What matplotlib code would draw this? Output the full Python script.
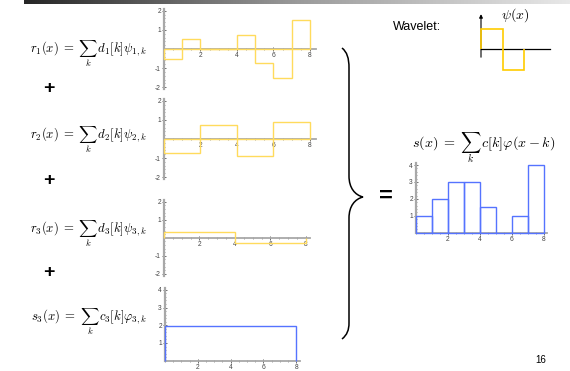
import numpy as np
import matplotlib
matplotlib.use('Agg')
import matplotlib.pyplot as plt
from matplotlib.path import Path
from matplotlib.patches import PathPatch
from matplotlib.ticker import MultipleLocator
from matplotlib.colors import LinearSegmentedColormap

plt.rcParams['mathtext.fontset'] = 'cm'
plt.rcParams['axes.unicode_minus'] = False
plt.rcParams['font.family'] = ['Liberation Sans', 'DejaVu Sans']

# ---- data ----
edges_l1 = [0, 1, 2, 3, 4, 5, 6, 7, 8]
r1_vals = [-0.5, 0.5, 0, 0, 0.75, -0.75, -1.5, 1.5]
edges_l2 = [0, 2, 4, 6, 8]
r2_vals = [-0.75, 0.75, -0.875, 0.875]
edges_l3 = [0, 4, 8]
r3_vals = [0.3125, -0.3125]
edges_l4 = [0, 8]
s3_vals = [1.9375]
s_vals = [1, 2, 3, 3, 1.5, 0, 1, 4]
psi_edges = [0, 0.5, 1]
psi_vals = [1, -1]
xticks = [2, 4, 6, 8]
detail_yticks = [-2, -1, 1, 2]
coarse_yticks = [1, 2, 3, 4]

YEL = '#FFDB5C'
BLUE = '#5573FF'

W, H = 570, 371
fig = plt.figure(figsize=(W / 100, H / 100), dpi=100)
fig.patch.set_facecolor('white')

# overlay in pixel coordinates
ov = fig.add_axes([0, 0, 1, 1])
ov.set_xlim(0, W)
ov.set_ylim(H, 0)
ov.axis('off')

cmap = LinearSegmentedColormap.from_list('bar', ['#262626', '#9a9a9a', '#e8e8e8'])
ov.imshow(np.linspace(0, 1, 256)[None, :], cmap=cmap, aspect='auto',
          extent=(24, W, 4.5, 0), zorder=1)
ov.set_xlim(0, W)
ov.set_ylim(H, 0)


def px_axes(x0, y0, x1, y1):
    return fig.add_axes([x0 / W, 1 - y1 / H, (x1 - x0) / W, (y1 - y0) / H])


def math_style(ax, xlim, ylim, yticks):
    ax.set_xlim(*xlim)
    ax.set_ylim(*ylim)
    ax.patch.set_visible(False)
    for s in ['top', 'right']:
        ax.spines[s].set_visible(False)
    ax.spines['left'].set_position(('data', 0))
    ax.spines['bottom'].set_position(('data', 0))
    ax.spines['left'].set_color('#a8a8a8')
    ax.spines['left'].set_linewidth(1.6)
    ax.spines['bottom'].set_color('#a8a8a8')
    ax.spines['bottom'].set_linewidth(1.3)
    ax.set_xticks(xticks)
    ax.set_yticks(yticks)
    ax.xaxis.set_minor_locator(MultipleLocator(0.5))
    ax.yaxis.set_minor_locator(MultipleLocator(0.2))
    ax.tick_params(which='major', direction='inout', length=2.5, width=0.6,
                   color='#555555', labelsize=4.8, labelcolor='#444444', pad=1)
    ax.tick_params(which='minor', direction='inout', length=1.2, width=0.5,
                   color='#777777')


# panel 1
ax1 = px_axes(164, 8.9, 316, 89.1)
math_style(ax1, (0, 8.33), (-2.1, 2.1), detail_yticks)
ax1.hlines(0, edges_l1[0], edges_l1[-1], color=YEL, lw=1, zorder=3)
ax1.stairs(r1_vals, edges_l1, baseline=0, color=YEL, lw=1, zorder=3, clip_on=False)

# panel 2
ax2 = px_axes(164, 99, 316, 179)
math_style(ax2, (0, 8.33), (-2.1, 2.1), detail_yticks)
ax2.hlines(0, edges_l2[0], edges_l2[-1], color=YEL, lw=1, zorder=3)
ax2.stairs(r2_vals, edges_l2, baseline=0, color=YEL, lw=1, zorder=3, clip_on=False)

# panel 3
ax3 = px_axes(164, 200, 309.5, 275.5)
math_style(ax3, (0, 8.2), (-2.1, 2.1), detail_yticks)
ax3.stairs(r3_vals, edges_l3, baseline=0, color=YEL, lw=1, zorder=3, clip_on=False)

# panel 4
ax4 = px_axes(165, 288, 299.5, 360.7)
math_style(ax4, (0, 8.2), (0, 4.1), coarse_yticks)
ax4.stairs(s3_vals, edges_l4, baseline=0, color=BLUE, lw=1, zorder=3, clip_on=False)

# right plot
ax5 = px_axes(416, 163.4, 547, 232.7)
math_style(ax5, (0, 8.2), (0, 4.1), coarse_yticks)
ax5.bar(edges_l1[:-1], s_vals, width=1, align='edge', fill=False,
        edgecolor=BLUE, lw=1, zorder=3, clip_on=False)

# wavelet mini plot
axw = px_axes(470, 10, 555, 75)
axw.set_xlim((470 - 481) / 43, (555 - 481) / 43)
axw.set_ylim((49 - 75) / 20.5, (49 - 10) / 20.5)
axw.axis('off')
axw.plot([0, 1.6], [0, 0], color='black', lw=0.9)
axw.annotate('', xy=(0, 1.7), xytext=(0, -0.4),
             arrowprops=dict(arrowstyle='-|>', lw=0.8, color='black',
                             mutation_scale=5, shrinkA=0, shrinkB=0))
axw.stairs(psi_vals, psi_edges, baseline=0, color='#FFCC00', lw=1.2, zorder=3)

# texts
eq_size = 9.2
ov.text(147, 54, r'$r_1(x)\;=\;\sum_k\, d_1[k]\psi_{1,k}$', ha='right', va='center', fontsize=eq_size)
ov.text(147, 140, r'$r_2(x)\;=\;\sum_k\, d_2[k]\psi_{2,k}$', ha='right', va='center', fontsize=eq_size)
ov.text(147, 234, r'$r_3(x)\;=\;\sum_k\, d_3[k]\psi_{3,k}$', ha='right', va='center', fontsize=eq_size)
ov.text(147, 322, r'$s_3(x)\;=\;\sum_k\, c_3[k]\varphi_{3,k}$', ha='right', va='center', fontsize=eq_size)
for yy in [88, 181, 273]:
    ov.text(49, yy, '+', ha='center', va='center', fontsize=14, fontweight='bold')
ov.text(484, 148, r'$s(x)\;=\;\sum_k\, c[k]\varphi(x-k)$', ha='center', va='center', fontsize=10.2)
ov.text(386, 196, '=', ha='center', va='center', fontsize=17, fontweight='bold')
ov.text(393, 27, 'Wavelet:', ha='left', va='center', fontsize=9)
ov.text(515, 15, r'$\psi(x)$', ha='center', va='center', fontsize=10)
ov.text(541, 360, '16', ha='center', va='center', fontsize=7)

# brace
verts = [(342, 48), (347, 52), (349, 58), (349, 68),
         (349, 176),
         (349, 188), (355, 195), (363, 197),
         (355, 199), (349, 206), (349, 218),
         (349, 323),
         (349, 330), (347, 335), (342, 339)]
codes = [Path.MOVETO, Path.CURVE4, Path.CURVE4, Path.CURVE4,
         Path.LINETO,
         Path.CURVE4, Path.CURVE4, Path.CURVE4,
         Path.CURVE4, Path.CURVE4, Path.CURVE4,
         Path.LINETO,
         Path.CURVE4, Path.CURVE4, Path.CURVE4]
ov.add_patch(PathPatch(Path(verts, codes), fill=False, lw=1.1, edgecolor='black'))

fig.savefig('out.png', dpi=100, facecolor='white')
